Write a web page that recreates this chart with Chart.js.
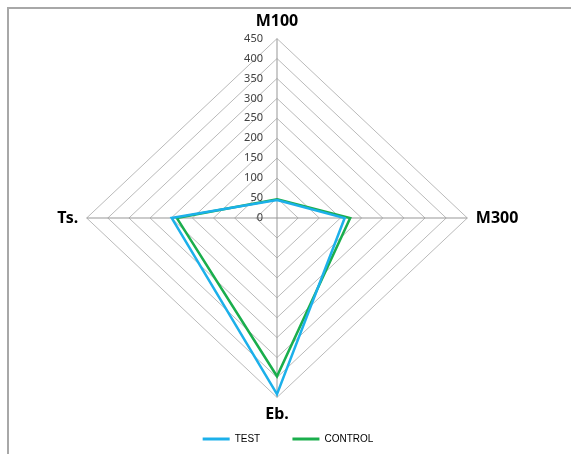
<!DOCTYPE html>
<html>
<head>
<meta charset="utf-8">
<script src="https://cdn.jsdelivr.net/npm/chart.js@4/dist/chart.umd.min.js"></script>
<style>
  html, body { margin: 0; padding: 0; background: #fff; }
  #wrap { width: 571px; height: 454px; }
</style>
</head>
<body>
<div id="wrap"><canvas id="radarChart" width="571" height="454"></canvas></div>
<script>
// axes and values
var axisLabels = ['M100', 'M300', 'Eb.', 'Ts.'];
var testValues = [45, 160, 442, 249];
var controlValues = [47, 173, 397, 237];
var tickValues = [0, 50, 100, 150, 200, 250, 300, 350, 400, 450];

// the original is a bit wider than it is tall
var stretchX = 1.061;
var radial = Chart.registry.getScale('radialLinear').prototype;
var basePointPosition = radial.getPointPosition;
radial.getPointPosition = function (index, distance, angle) {
    var p = basePointPosition.call(this, index, distance, angle);
    return { x: this.xCenter + (p.x - this.xCenter) * stretchX, y: p.y, angle: p.angle };
};

// frame lines and tick numbers left of the vertical axis
var decorations = {
    id: 'decorations',
    beforeDraw: function (chart) {
        var ctx = chart.ctx;
        ctx.save();
        ctx.fillStyle = '#a8a8a8';
        ctx.fillRect(7, 7, 564, 2);
        ctx.fillRect(7, 7, 2, 447);
        ctx.restore();
    },
    afterDraw: function (chart) {
        var r = chart.scales.r, ctx = chart.ctx;
        ctx.save();
        ctx.font = '11px "Noto Sans"';
        ctx.fillStyle = '#404040';
        ctx.textAlign = 'right';
        ctx.textBaseline = 'middle';
        tickValues.forEach(function (v) {
            ctx.fillText(String(v), r.xCenter - 14, r.yCenter - r.getDistanceFromCenterForValue(v));
        });
        ctx.restore();
    }
};

new Chart(document.getElementById('radarChart'), {
    type: 'radar',
    data: {
        labels: axisLabels,
        datasets: [{
            label: 'TEST',
            data: testValues,
            borderColor: '#1cb0ea',
            backgroundColor: '#1cb0ea',
            borderWidth: 2.5,
            fill: false,
            pointRadius: 0
        }, {
            label: 'CONTROL',
            data: controlValues,
            borderColor: '#1aae4c',
            backgroundColor: '#1aae4c',
            borderWidth: 2.5,
            fill: false,
            pointRadius: 0
        }]
    },
    options: {
        responsive: false,
        animation: false,
        layout: { padding: { left: 40, right: 35, top: 14, bottom: 0 } },
        elements: { line: { tension: 0 } },
        scales: {
            r: {
                min: 0,
                max: 450,
                ticks: { stepSize: 50, display: false },
                grid: { color: '#bababa', lineWidth: 1 },
                angleLines: { color: '#979797', lineWidth: 1 },
                pointLabels: {
                    padding: 8,
                    color: '#000',
                    font: { family: '"Noto Sans"', size: 16, weight: 'bold', lineHeight: 1.1 }
                }
            }
        },
        plugins: {
            tooltip: { enabled: false },
            legend: {
                position: 'bottom',
                labels: {
                    boxWidth: 27,
                    boxHeight: 3,
                    padding: 10,
                    color: '#000',
                    font: { family: '"Liberation Sans"', size: 10 },
                    generateLabels: function (chart) {
                        var items = Chart.defaults.plugins.legend.labels.generateLabels(chart);
                        return items.map(function (item, i) {
                            item.fillStyle = item.strokeStyle;
                            item.lineWidth = 0;
                            if (i === 0) item.text = item.text + '        ';
                            return item;
                        });
                    }
                }
            }
        }
    },
    plugins: [decorations]
});
</script>
</body>
</html>
